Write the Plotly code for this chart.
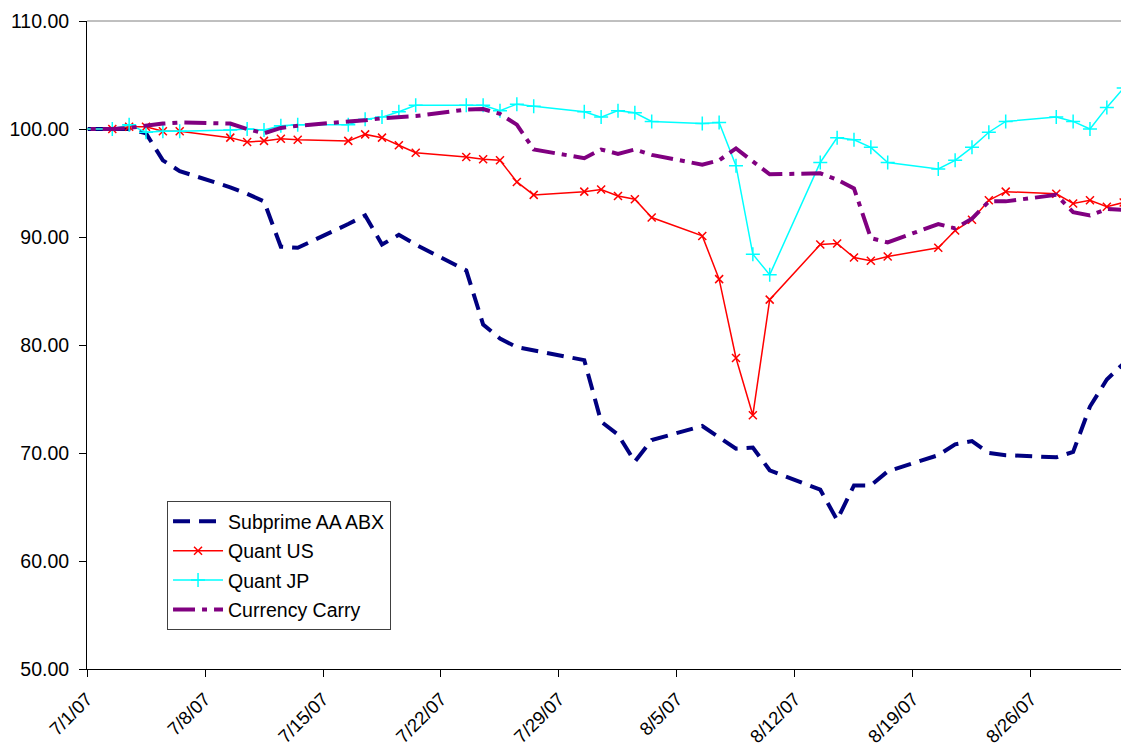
import pandas as pd
import plotly.graph_objects as go

dates = ["2007-06-29", "2007-07-02", "2007-07-03", "2007-07-04", "2007-07-05", "2007-07-06",
         "2007-07-09", "2007-07-10", "2007-07-11", "2007-07-12", "2007-07-13",
         "2007-07-16", "2007-07-17", "2007-07-18", "2007-07-19", "2007-07-20",
         "2007-07-23", "2007-07-24", "2007-07-25", "2007-07-26", "2007-07-27",
         "2007-07-30", "2007-07-31", "2007-08-01", "2007-08-02", "2007-08-03",
         "2007-08-06", "2007-08-07", "2007-08-08", "2007-08-09", "2007-08-10",
         "2007-08-13", "2007-08-14", "2007-08-15", "2007-08-16", "2007-08-17",
         "2007-08-20", "2007-08-21", "2007-08-22", "2007-08-23", "2007-08-24",
         "2007-08-27", "2007-08-28", "2007-08-29", "2007-08-30", "2007-08-31"]

subprime_aa_abx = [100.0, 100.0, 100.0, 99.6, 97.1, 96.1,
                   94.6, 94.0, 93.3, 89.1, 89.0,
                   91.2, 92.0, 89.3, 90.2, 89.3,
                   86.9, 81.9, 80.6, 79.8, 79.5,
                   78.6, 72.9, 71.7, 69.2, 71.2,
                   72.5, 71.5, 70.4, 70.5, 68.4,
                   66.6, 63.8, 67.0, 67.0, 68.3,
                   69.8, 70.8, 71.1, 70.0, 69.8,
                   69.6, 70.1, 74.3, 76.8, 78.3]

quant_us = [100.0, 100.0, 100.2, 100.2, 99.8, 99.8,
            99.2, 98.8, 98.9, 99.1, 99.0,
            98.9, 99.5, 99.2, 98.5, 97.8,
            97.4, 97.2, 97.1, 95.1, 93.9,
            94.2, 94.4, 93.8, 93.5, 91.8,
            90.1, 86.1, 78.8, 73.5, 84.2,
            89.3, 89.4, 88.1, 87.8, 88.2,
            89.0, 90.6, 91.6, 93.4, 94.2,
            94.0, 93.1, 93.4, 92.8, 93.2]

quant_jp = [100.0, 100.0, 100.4, 99.7, 99.8, 99.8,
            99.9, 100.0, 99.9, 100.3, 100.4,
            100.4, 100.9, 101.1, 101.6, 102.2,
            102.2, 102.2, 101.7, 102.3, 102.1,
            101.6, 101.1, 101.7, 101.5, 100.7,
            100.5, 100.6, 96.6, 88.4, 86.5,
            96.9, 99.2, 99.0, 98.3, 96.9,
            96.3, 97.1, 98.3, 99.7, 100.7,
            101.1, 100.7, 100.0, 102.0, 103.8]

currency_carry = [100.0, 100.0, 100.1, 100.3, 100.5, 100.6,
                  100.5, 100.0, 99.6, 100.1, 100.3,
                  100.7, 100.8, 101.0, 101.1, 101.2,
                  101.8, 101.85, 101.4, 100.4, 98.1,
                  97.3, 98.1, 97.7, 98.1, 97.6,
                  96.7, 97.1, 98.2, 97.0, 95.8,
                  95.9, 95.3, 94.5, 89.9, 89.5,
                  91.2, 90.8, 91.7, 93.3, 93.3,
                  93.9, 92.3, 92.0, 92.6, 92.5]

tick_dates = ["2007-07-01", "2007-07-08", "2007-07-15", "2007-07-22", "2007-07-29",
              "2007-08-05", "2007-08-12", "2007-08-19", "2007-08-26"]
tick_labels = ["7/1/07", "7/8/07", "7/15/07", "7/22/07", "7/29/07",
               "8/5/07", "8/12/07", "8/19/07", "8/26/07"]
y_ticks = [50, 60, 70, 80, 90, 100, 110]
y_tick_labels = ["50.00", "60.00", "70.00", "80.00", "90.00", "100.00", "110.00"]

# points sit in the middle of each day (Excel date axis)
x = pd.to_datetime(dates) + pd.Timedelta(hours=12)

fig = go.Figure()
fig.add_trace(go.Scatter(x=x, y=subprime_aa_abx, mode="lines", name="Subprime AA ABX",
                         legendgroup="a",
                         line=dict(color="#000080", width=4, dash="17px,9px")))
fig.add_trace(go.Scatter(x=x, y=quant_us, mode="lines+markers", name="Quant US",
                         legendgroup="b",
                         line=dict(color="#FF0000", width=1.5),
                         marker=dict(symbol="x-thin", size=8, line=dict(color="#FF0000", width=1.5))))
fig.add_trace(go.Scatter(x=x, y=quant_jp, mode="lines+markers", name="Quant JP",
                         legendgroup="c",
                         line=dict(color="#00FFFF", width=1.5),
                         marker=dict(symbol="cross-thin", size=10, line=dict(color="#00FFFF", width=1.5))))
fig.add_trace(go.Scatter(x=x, y=currency_carry, mode="lines", name="Currency Carry",
                         legendgroup="d",
                         line=dict(color="#800080", width=4, dash="22px,7px,5px,7px")))

fig.update_layout(
    width=1121, height=750,
    margin=dict(l=87, r=0, t=21, b=81, autoexpand=False),
    paper_bgcolor="white", plot_bgcolor="white",
    font=dict(family="Liberation Sans, Arial", size=19.5, color="black"),
    showlegend=True,
    legend=dict(x=0.0774, y=0.259, xanchor="left", yanchor="top",
                bgcolor="white", bordercolor="#404040", borderwidth=1,
                font=dict(size=19.5), itemwidth=50, tracegroupgap=1),
    shapes=[dict(type="line", xref="paper", yref="paper", x0=0, x1=1, y0=1, y1=1,
                 line=dict(color="#808080", width=1))],
)
fig.update_xaxes(
    range=[pd.Timestamp("2007-07-01"), pd.Timestamp("2007-07-01") + pd.Timedelta(days=61.34)],
    tickvals=tick_dates, ticktext=tick_labels, tickangle=-45, ticklabelstandoff=4,
    tickfont=dict(size=18.5),
    automargin=False,
    showgrid=False, zeroline=False, showline=True, linecolor="black", linewidth=1,
    ticks="outside", ticklen=7, tickcolor="black",
)
fig.update_yaxes(
    range=[50, 110], tickvals=y_ticks, ticktext=y_tick_labels, ticklabelstandoff=6,
    automargin=False,
    showgrid=False, zeroline=False, showline=True, linecolor="black", linewidth=1,
    ticks="outside", ticklen=7, tickcolor="black",
)

fig.write_html("out.html", config={"displayModeBar": False},
               post_script="document.body.style.margin='0';document.body.style.overflow='hidden';")
